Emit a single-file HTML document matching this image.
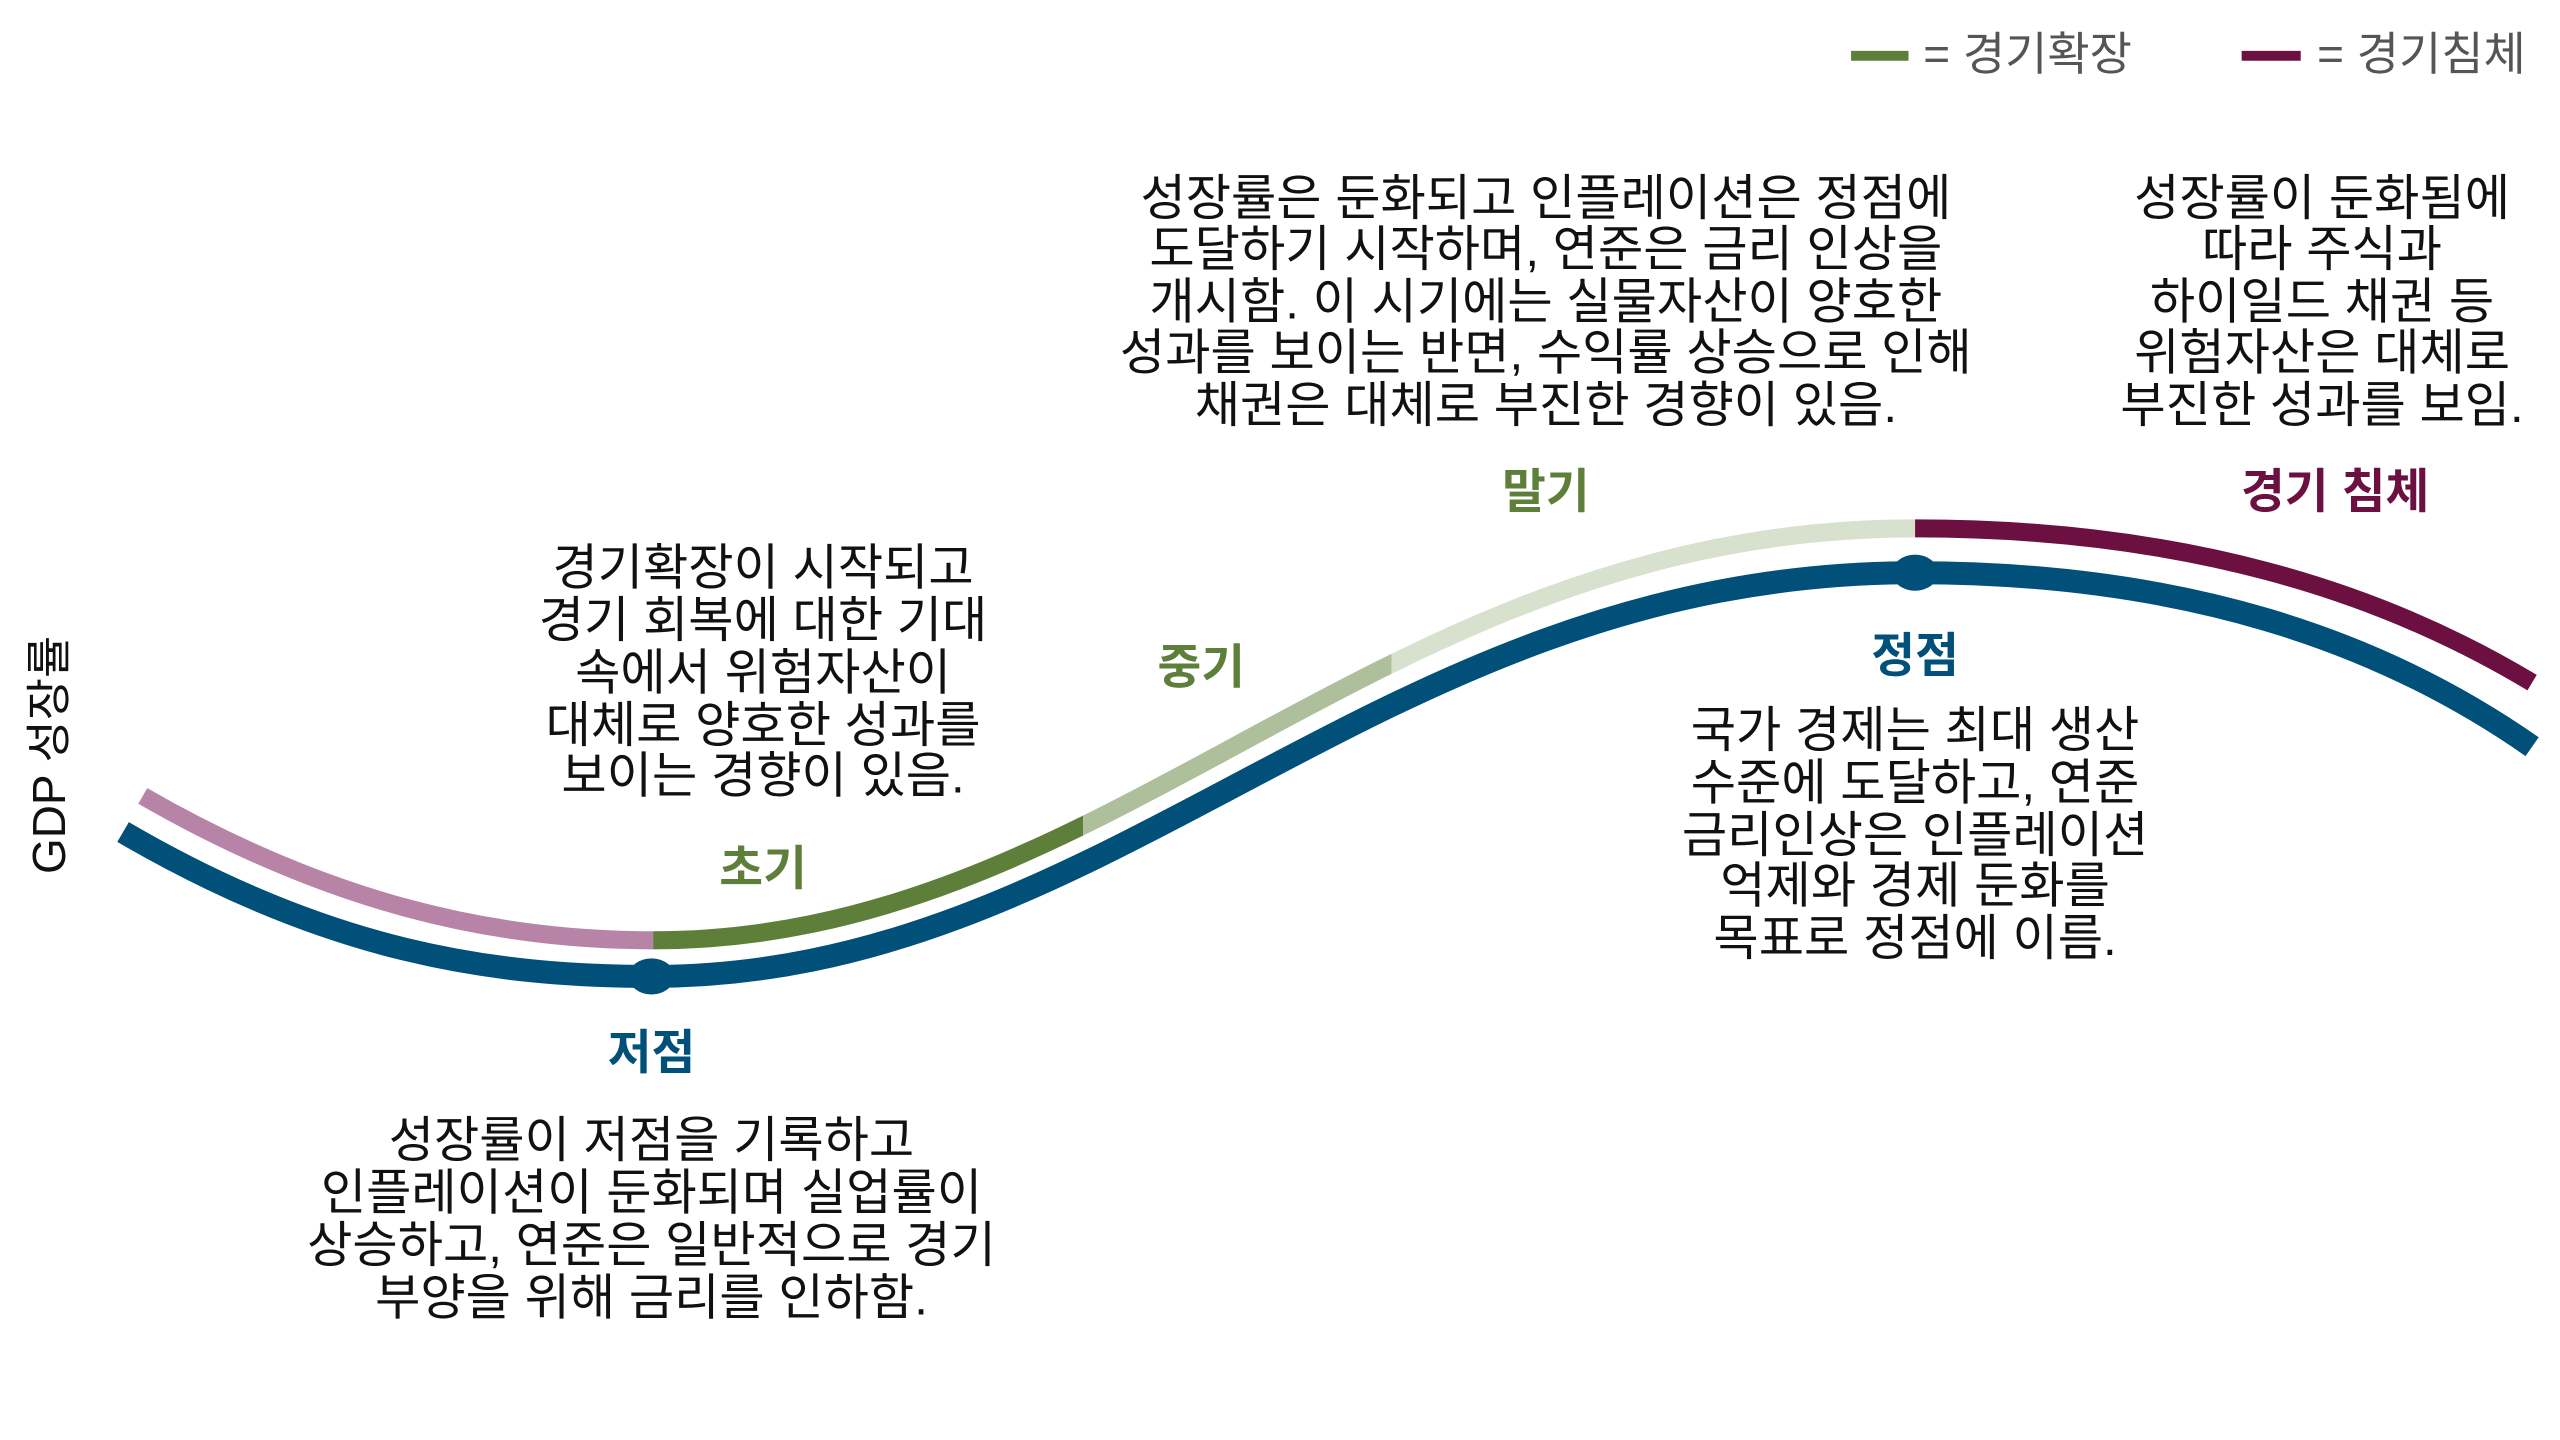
<!DOCTYPE html>
<html><head><meta charset="utf-8"><style>
html,body{margin:0;padding:0;background:#fff;}
svg{display:block;}
text{font-family:"Liberation Sans","Noto Sans CJK KR",sans-serif;dominant-baseline:central;text-anchor:middle;}
.b{font-size:30px;fill:#111;}
.l{font-size:29px;font-weight:bold;}
</style></head><body>
<svg width="2560" height="1440" viewBox="0 0 1560 877.5" preserveAspectRatio="none" xmlns="http://www.w3.org/2000/svg">
<defs>
<clipPath id="c1"><rect x="0" y="0" width="398" height="877"/></clipPath>
<clipPath id="c2"><rect x="398" y="0" width="262" height="877"/></clipPath>
<clipPath id="c3"><rect x="660" y="0" width="188" height="877"/></clipPath>
<clipPath id="c4"><rect x="848" y="0" width="319" height="877"/></clipPath>
<clipPath id="c5"><rect x="1167" y="0" width="400" height="877"/></clipPath>
</defs>
<line x1="1128" y1="34" x2="1163" y2="34" stroke="#5e7f3a" stroke-width="6"/>
<text x="1172" y="33" style="text-anchor:start;font-size:28px;fill:#555">= 경기확장</text>
<line x1="1366" y1="34" x2="1402" y2="34" stroke="#6b1040" stroke-width="6"/>
<text x="1412" y="33" style="text-anchor:start;font-size:28px;fill:#555">= 경기침체</text>

<path d="M75,507 C200,580 300,595 397,595 C680,595 840,349 1167,349 C1330,349 1450,390 1543,455" fill="none" stroke="#00507a" stroke-width="14"/>
<ellipse cx="397" cy="595" rx="14" ry="11" fill="#00507a"/>
<ellipse cx="1167" cy="349" rx="14" ry="11" fill="#00507a"/>

<g fill="none" stroke-width="11">
<path d="M87,485 C200,550 300,573 398,573 C680,573 840,322 1167,322 C1330,322 1450,360 1543,416" stroke="#b784a7" clip-path="url(#c1)"/>
<path d="M87,485 C200,550 300,573 398,573 C680,573 840,322 1167,322 C1330,322 1450,360 1543,416" stroke="#5e7f3a" clip-path="url(#c2)"/>
<path d="M87,485 C200,550 300,573 398,573 C680,573 840,322 1167,322 C1330,322 1450,360 1543,416" stroke="#aebf9c" clip-path="url(#c3)"/>
<path d="M87,485 C200,550 300,573 398,573 C680,573 840,322 1167,322 C1330,322 1450,360 1543,416" stroke="#d8e0ce" clip-path="url(#c4)"/>
<path d="M87,485 C200,550 300,573 398,573 C680,573 840,322 1167,322 C1330,322 1450,360 1543,416" stroke="#6b1040" clip-path="url(#c5)"/>
</g>

<text x="30" y="460" transform="rotate(-90 30 460)" style="font-size:28px;fill:#111">GDP 성장률</text>

<text class="l" x="942" y="300" fill="#5e7f3a">말기</text>
<text class="l" x="1423" y="300" fill="#6b1040">경기 침체</text>
<text class="l" x="732" y="407" fill="#5e7f3a">중기</text>
<text class="l" x="1167" y="400" fill="#00507a">정점</text>
<text class="l" x="465" y="530" fill="#5e7f3a">초기</text>
<text class="l" x="397" y="642" fill="#00507a">저점</text>

<g class="b">
<text x="942" y="121">성장률은 둔화되고 인플레이션은 정점에</text>
<text x="942" y="152">도달하기 시작하며, 연준은 금리 인상을</text>
<text x="942" y="184">개시함. 이 시기에는 실물자산이 양호한</text>
<text x="942" y="215">성과를 보이는 반면, 수익률 상승으로 인해</text>
<text x="942" y="247">채권은 대체로 부진한 경향이 있음.</text>

<text x="1415" y="121">성장률이 둔화됨에</text>
<text x="1415" y="152">따라 주식과</text>
<text x="1415" y="184">하이일드 채권 등</text>
<text x="1415" y="215">위험자산은 대체로</text>
<text x="1415" y="247">부진한 성과를 보임.</text>

<text x="465" y="346">경기확장이 시작되고</text>
<text x="465" y="378">경기 회복에 대한 기대</text>
<text x="465" y="410">속에서 위험자산이</text>
<text x="465" y="442">대체로 양호한 성과를</text>
<text x="465" y="473">보이는 경향이 있음.</text>

<text x="1167" y="445">국가 경제는 최대 생산</text>
<text x="1167" y="477">수준에 도달하고, 연준</text>
<text x="1167" y="509">금리인상은 인플레이션</text>
<text x="1167" y="540">억제와 경제 둔화를</text>
<text x="1167" y="572">목표로 정점에 이름.</text>

<text x="397" y="695">성장률이 저점을 기록하고</text>
<text x="397" y="727">인플레이션이 둔화되며 실업률이</text>
<text x="397" y="759">상승하고, 연준은 일반적으로 경기</text>
<text x="397" y="791">부양을 위해 금리를 인하함.</text>
</g>
</svg>
</body></html>
